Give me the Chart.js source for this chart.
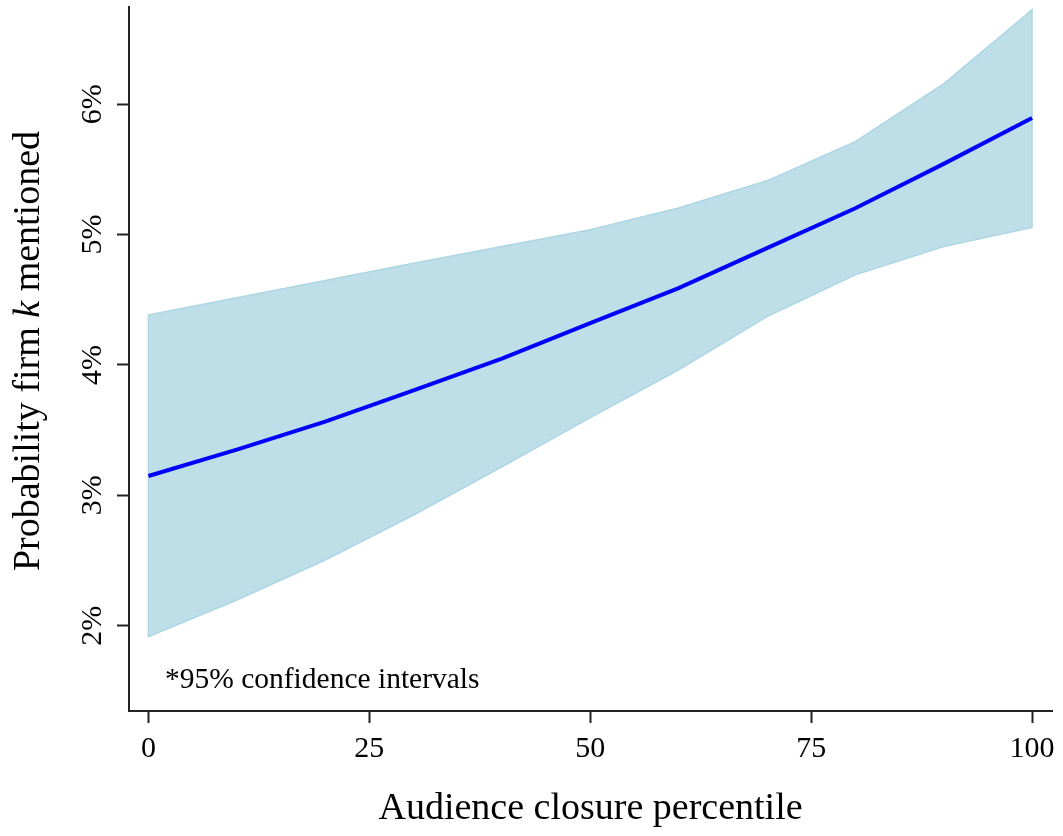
<!DOCTYPE html>
<html>
<head>
<meta charset="utf-8">
<script src="https://cdn.jsdelivr.net/npm/chart.js@4/dist/chart.umd.min.js"></script>
<style>
  html, body { margin: 0; padding: 0; background: #ffffff; }
  canvas { display: block; }
</style>
</head>
<body>
<canvas id="c" width="1063" height="836"></canvas>
<script>
// ---- data ----
const percentiles = [0, 10, 20, 30, 40, 50, 60, 70, 80, 90, 100];
const predicted   = [3.148, 3.35, 3.565, 3.805, 4.048, 4.32, 4.589, 4.896, 5.202, 5.542, 5.893];
const upperCI     = [4.384, 4.515, 4.647, 4.78, 4.908, 5.036, 5.204, 5.412, 5.713, 6.156, 6.723];
const lowerCI     = [1.916, 2.197, 2.504, 2.849, 3.219, 3.596, 3.963, 4.371, 4.691, 4.908, 5.054];
const xTicks = [0, 25, 50, 75, 100];
const yTicks = [2, 3, 4, 5, 6];
const xTitle = 'Audience closure percentile';
const yTitleParts = [['Probability firm ', false], ['k', true], [' mentioned', false]];
const note = '*95% confidence intervals';

const FONT = '"Liberation Serif", "Times New Roman", serif';
const AXIS = '#222222';

// band polygon: upper left->right, then lower right->left, closed
const bandPts = percentiles.map((x, i) => ({x: x, y: upperCI[i]}))
  .concat(percentiles.slice().reverse().map((x, j) => ({x: x, y: lowerCI[percentiles.length - 1 - j]})));
bandPts.push({x: percentiles[0], y: upperCI[0]});

const textPlugin = {
  id: 'texts',
  afterDraw(chart) {
    const ctx = chart.ctx;
    const ca = chart.chartArea;
    ctx.save();
    ctx.fillStyle = '#000';
    // x title
    ctx.font = '38px ' + FONT;
    ctx.textAlign = 'center';
    ctx.textBaseline = 'alphabetic';
    ctx.fillText(xTitle, (ca.left + ca.right) / 2, 819);
    // y title (mixed italic)
    const widths = yTitleParts.map(p => {
      ctx.font = (p[1] ? 'italic ' : '') + '38px ' + FONT;
      return ctx.measureText(p[0]).width;
    });
    const total = widths.reduce((a, b) => a + b, 0);
    ctx.translate(39, 351);
    ctx.rotate(-Math.PI / 2);
    ctx.textAlign = 'left';
    let px = -total / 2;
    yTitleParts.forEach((p, i) => {
      ctx.font = (p[1] ? 'italic ' : '') + '38px ' + FONT;
      ctx.fillText(p[0], px, 0);
      px += widths[i];
    });
    ctx.restore();
    // note
    ctx.save();
    ctx.fillStyle = '#000';
    ctx.font = '29.5px ' + FONT;
    ctx.textAlign = 'left';
    ctx.textBaseline = 'alphabetic';
    ctx.fillText(note, ca.left + 36, 688);
    ctx.restore();
  }
};

new Chart(document.getElementById('c'), {
  type: 'line',
  data: {
    datasets: [
      {
        label: 'Predicted',
        data: percentiles.map((x, i) => ({x: x, y: predicted[i]})),
        borderColor: '#0000ff',
        borderWidth: 4,
        pointRadius: 0,
        tension: 0,
        fill: false,
        order: 0
      },
      {
        label: '95% CI',
        data: bandPts,
        borderColor: 'rgba(172,214,228,1)',
        borderWidth: 1.5,
        backgroundColor: 'rgb(190,223,232)',
        pointRadius: 0,
        tension: 0,
        fill: 'shape',
        order: 1
      }
    ]
  },
  options: {
    responsive: false,
    devicePixelRatio: 1,
    animation: false,
    layout: { padding: { top: 7, right: 11, left: 0, bottom: 0 } },
    plugins: { legend: { display: false }, tooltip: { enabled: false } },
    scales: {
      x: {
        type: 'linear',
        min: -2.2,
        max: 102.26,
        afterBuildTicks: s => { s.ticks = xTicks.map(v => ({value: v})); },
        afterFit: s => { s.height = 125; s.paddingLeft = 0; s.paddingRight = 0; },
        ticks: {
          color: '#000',
          font: { family: FONT, size: 30 },
          padding: 8,
          maxRotation: 0,
          minRotation: 0,
          callback: v => String(v)
        },
        grid: { display: true, drawOnChartArea: false, drawTicks: true, tickLength: 12, tickWidth: 2, tickColor: AXIS },
        border: { display: true, color: AXIS, width: 2 }
      },
      y: {
        type: 'linear',
        min: 1.346,
        max: 6.745,
        afterBuildTicks: s => { s.ticks = yTicks.map(v => ({value: v})); },
        afterFit: s => { s.width = 129; s.paddingTop = 0; s.paddingBottom = 0; },
        ticks: {
          color: '#000',
          font: { family: FONT, size: 30 },
          padding: 4,
          minRotation: 90,
          maxRotation: 90,
          crossAlign: 'center',
          callback: v => v + '%'
        },
        grid: { display: true, drawOnChartArea: false, drawTicks: true, tickLength: 12, tickWidth: 2, tickColor: AXIS },
        border: { display: true, color: AXIS, width: 2 }
      }
    }
  },
  plugins: [textPlugin]
});
</script>
</body>
</html>
